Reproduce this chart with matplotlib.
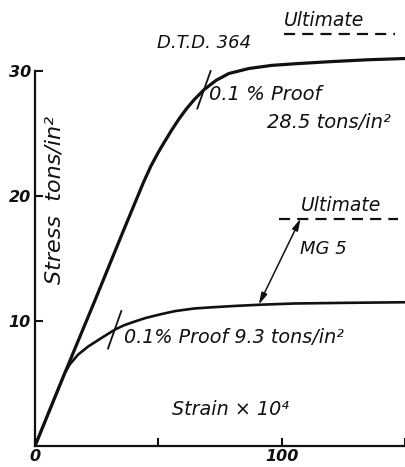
import numpy as np
import matplotlib.pyplot as plt

# stress-strain curves for the two light alloys (strain x 10^4, stress tons/in^2)
dtd_strain = [0, 12, 24, 36, 44, 47, 50, 52.4, 55.5, 58.5, 61.5, 64.5, 68.5, 73.4, 78.6,
              86.7, 96, 107, 120, 135, 150]
dtd_stress = [0, 5.8, 11.5, 17.3, 21.1, 22.4, 23.5, 24.3, 25.3, 26.2, 27.0, 27.7, 28.5, 29.25, 29.8,
              30.2, 30.45, 30.6, 30.75, 30.9, 31.0]

mg5_strain = [0, 12, 14, 17.4, 21.5, 27, 32.3, 36, 40.3, 45, 51.2, 57, 64.5, 72, 80.6,
              91, 105, 125, 150]
mg5_stress = [0, 5.8, 6.5, 7.3, 7.95, 8.65, 9.3, 9.65, 9.95, 10.25, 10.55, 10.8, 11.0, 11.1, 11.2,
              11.3, 11.4, 11.45, 11.5]

# 0.1% proof stresses and ultimate stresses
proof_stress = [28.5, 9.3]
ultimate_stress = [33.0, 18.2]
ultimate_strain = [[100.8, 146], [98.8, 147]]

ytick_vals = [10, 20, 30]
xtick_vals = [0, 50, 100, 150]
xtick_labels = ['0', '', '100', '']

ink = '#111111'
font = dict(family='DejaVu Sans', style='italic', color=ink)

fig = plt.figure(figsize=(4.05, 4.67), dpi=100)
ax = fig.add_axes([35 / 405, 21 / 467, 370 / 405, 437.5 / 467])
ax.set_xlim(0, 370 / 2.48)
ax.set_ylim(0, 35)

ax.plot(mg5_strain, mg5_stress, color=ink, lw=1.9, solid_joinstyle='round')
ax.plot(dtd_strain, dtd_stress, color=ink, lw=2.3, solid_joinstyle='round')

# short slanted strokes marking the proof points on each curve
for strain, stress, s in [(dtd_strain, dtd_stress, proof_stress[0]),
                          (mg5_strain, mg5_stress, proof_stress[1])]:
    x0 = np.interp(s, stress, strain)
    ax.plot([x0 - 2.7, x0 + 2.7], [s - 1.5, s + 1.5], color=ink, lw=1.3)

# ultimate stress levels
for lvl, (xa, xb) in zip(ultimate_stress, ultimate_strain):
    ax.plot([xa, xb], [lvl, lvl], color=ink, lw=1.6, dashes=(5, 3.2))

# arrow from MG5 curve up to its ultimate line
ax.annotate('', xy=(107.7, ultimate_stress[1]), xytext=(90.7, 11.3),
            arrowprops=dict(arrowstyle='<|-|>,head_length=0.7,head_width=0.18',
                            color=ink, lw=1.1, shrinkA=0, shrinkB=0))

ax.text(117, 33.3, 'Ultimate', fontsize=13.5, ha='center', va='bottom', **font)
ax.text(68.5, 32.2, 'D.T.D. 364', fontsize=13, ha='center', va='center', **font)
ax.text(93.5, 28.1, '0.1 % Proof', fontsize=14, ha='center', va='center', **font)
ax.text(119, 25.9, '28.5 tons/in²', fontsize=14, ha='center', va='center', **font)
ax.text(124, 18.5, 'Ultimate', fontsize=13.5, ha='center', va='bottom', **font)
ax.text(117, 15.8, 'MG 5', fontsize=13, ha='center', va='center', **font)
ax.text(80.6, 8.7, '0.1% Proof 9.3 tons/in²', fontsize=13.8, ha='center', va='center', **font)
ax.text(79.4, 2.9, 'Strain × 10⁴', fontsize=13.8, ha='center', va='center', **font)
ax.text(8, 19.7, 'Stress  tons/in²', fontsize=16, ha='center', va='center', rotation=90, **font)

# axes drawn like the original: inward ticks, no box
for side in ['top', 'right']:
    ax.spines[side].set_visible(False)
ax.spines['left'].set_bounds(0, 30)
ax.spines['left'].set_linewidth(1.6)
ax.spines['bottom'].set_linewidth(1.6)
ax.spines['left'].set_color(ink)
ax.spines['bottom'].set_color(ink)

ax.set_yticks(ytick_vals)
ax.set_xticks(xtick_vals)
ax.set_xticklabels(xtick_labels)
ax.tick_params(direction='in', length=6, width=1.5, color=ink)
ax.tick_params(axis='y', pad=3)
ax.tick_params(axis='x', pad=2)
for lab in ax.get_xticklabels() + ax.get_yticklabels():
    lab.set_fontsize(11.5)
    lab.set_fontstyle('italic')
    lab.set_fontweight('bold')
    lab.set_color(ink)

fig.savefig('out.png', dpi=100)
